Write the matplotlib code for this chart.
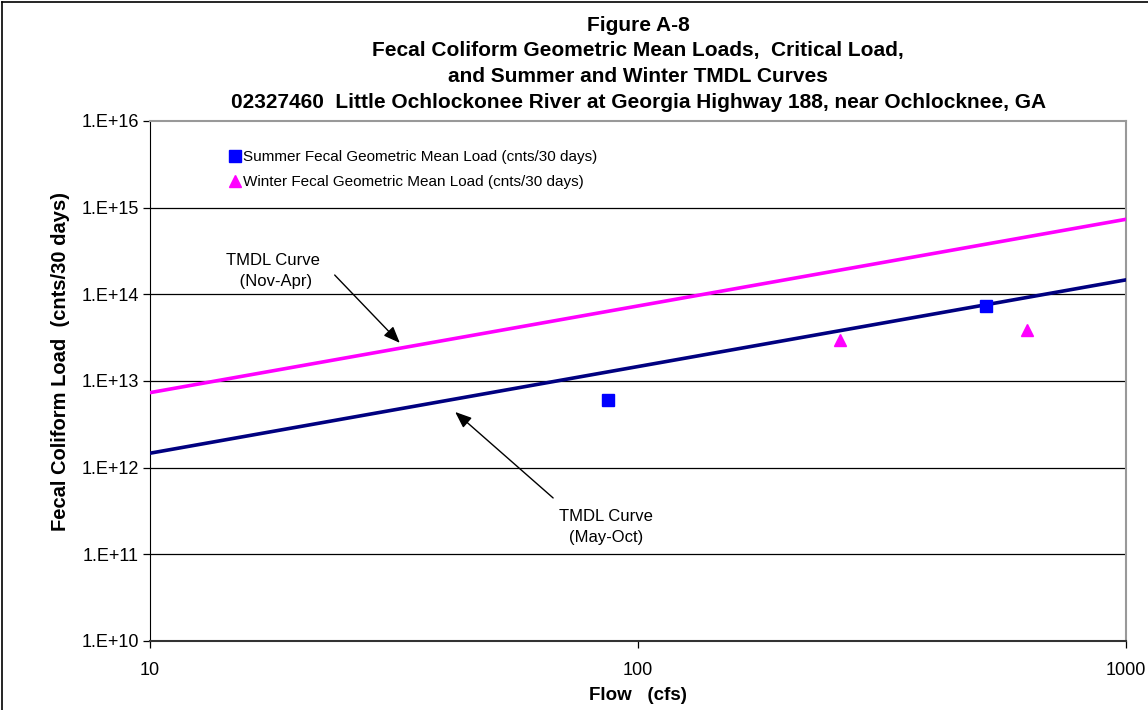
import matplotlib
matplotlib.use("Agg")
import matplotlib.pyplot as plt
import numpy as np
from matplotlib.ticker import FixedLocator, NullLocator, FuncFormatter

plt.rcParams['font.family'] = ['Liberation Sans', 'DejaVu Sans']

# dados
vazaoVerao = [87, 517]
cargaVerao = [6.0e12, 7.3e13]
vazaoInverno = [259, 627]
cargaInverno = [2.95e13, 3.9e13]

vazaoCurva = [10, 1000]
tmdlVerao = [1.468e12, 1.468e14]
tmdlInverno = [7.34e12, 7.34e14]

fig = plt.figure(figsize=(11.48, 7.1), dpi=100)
ax = fig.add_axes([0.1307, 0.0972, 0.8501, 0.7324])

ax.set_xscale('log')
ax.set_yscale('log')
ax.set_xlim(10, 1000)
ax.set_ylim(1e10, 1e16)

decadas = [10.0 ** k for k in range(10, 17)]
for d in decadas[1:-1]:
    ax.axhline(d, color='black', lw=0.9, zorder=1)

ax.plot(vazaoCurva, tmdlInverno, color='#FF00FF', lw=2.6, zorder=3)
ax.plot(vazaoCurva, tmdlVerao, color='#000080', lw=2.6, zorder=3)
ax.plot(vazaoVerao, cargaVerao, 's', color='#0000FF', ms=9, ls='none', zorder=4,
        label='Summer Fecal Geometric Mean Load (cnts/30 days)')
ax.plot(vazaoInverno, cargaInverno, '^', color='#FF00FF', ms=9, ls='none', zorder=4,
        label='Winter Fecal Geometric Mean Load (cnts/30 days)')

ax.legend(loc='upper left', bbox_to_anchor=(0.076, 0.955), frameon=False, fontsize=11,
          handlelength=0.6, handletextpad=0.25, borderaxespad=0, labelspacing=0.68)

seta = dict(arrowstyle='-|>,head_width=0.4,head_length=1.0', color='black', lw=1,
            shrinkA=0, shrinkB=0)
ax.text(17.9, 1.86e14, 'TMDL Curve\n (Nov-Apr)', ha='center', va='center', fontsize=12,
        linespacing=1.45)
ax.annotate('', xy=(32.5, 2.75e13), xytext=(23.9, 1.67e14), arrowprops=seta)
ax.text(86, 2.07e11, 'TMDL Curve\n(May-Oct)', ha='center', va='center', fontsize=12,
        linespacing=1.45)
ax.annotate('', xy=(42.2, 4.39e12), xytext=(67, 4.47e11), arrowprops=seta)

ax.yaxis.set_major_locator(FixedLocator(decadas))
ax.yaxis.set_minor_locator(NullLocator())
ax.yaxis.set_major_formatter(FuncFormatter(lambda v, p: '1.E+%d' % round(np.log10(v))))
ax.xaxis.set_major_locator(FixedLocator([10, 100, 1000]))
ax.xaxis.set_minor_locator(NullLocator())
ax.xaxis.set_major_formatter(FuncFormatter(lambda v, p: '%d' % v))
ax.tick_params(axis='both', labelsize=13, length=5, width=0.9, direction='out', pad=3)
ax.tick_params(axis='x', pad=10)

for lado in ['top', 'right']:
    ax.spines[lado].set_color('#999999')
    ax.spines[lado].set_linewidth(1.5)
ax.spines['left'].set_color('black')
ax.spines['bottom'].set_color('#333333')
ax.spines['bottom'].set_linewidth(1.5)

ax.set_xlabel('Flow   (cfs)', fontsize=13.5, fontweight='bold', labelpad=6)
ax.set_ylabel('Fecal Coliform Load  (cnts/30 days)', fontsize=14.5, fontweight='bold')
ax.yaxis.set_label_coords(-0.082, 0.538)

titulo = ('Figure A-8\n'
          'Fecal Coliform Geometric Mean Loads,  Critical Load,\n'
          'and Summer and Winter TMDL Curves\n'
          '02327460  Little Ochlockonee River at Georgia Highway 188, near Ochlocknee, GA')
fig.text(0.556, 0.978, titulo, ha='center', va='top', fontsize=15, fontweight='bold',
         linespacing=1.45)

# moldura da figura (so esquerda e topo visiveis)
fig.add_artist(plt.Line2D([0.002, 0.002], [0, 0.997], color='black', lw=1.2, transform=fig.transFigure))
fig.add_artist(plt.Line2D([0.002, 1], [0.997, 0.997], color='black', lw=1.2, transform=fig.transFigure))

fig.savefig('out.png', dpi=100)
